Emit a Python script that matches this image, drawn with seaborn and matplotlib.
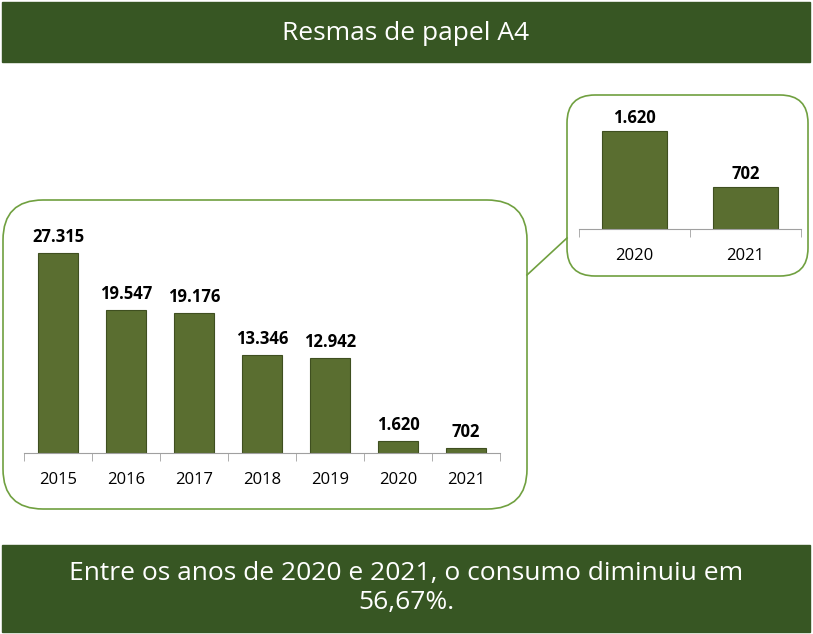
import matplotlib
matplotlib.use("Agg")
import matplotlib.pyplot as plt
import seaborn as sns
import pandas as pd
from matplotlib.patches import FancyBboxPatch, Rectangle
from matplotlib.lines import Line2D

years = ["2015", "2016", "2017", "2018", "2019", "2020", "2021"]
values = [27315, 19547, 19176, 13346, 12942, 1620, 702]
labels = ["27.315", "19.547", "19.176", "13.346", "12.942", "1.620", "702"]
inset_years = ["2020", "2021"]
inset_values = [1620, 702]
inset_labels = ["1.620", "702"]

W, H = 813, 634
fig = plt.figure(figsize=(W/100, H/100), dpi=100)
DARK = "#375623"
BAR = "#5a6e30"
BOX = "#70a040"

def fx(x): return x / W
def fy(y): return 1 - y / H

def rect(x0, y0, x1, y1):
    return [fx(x0), fy(y1), fx(x1) - fx(x0), fy(y0) - fy(y1)]

# header/footer bands
fig.patches.append(Rectangle((fx(2), fy(62)), fx(808)-fx(0), fy(2)-fy(62), transform=fig.transFigure, color=DARK))
fig.patches.append(Rectangle((fx(2), fy(632)), fx(808)-fx(0), fy(545)-fy(632), transform=fig.transFigure, color=DARK))
fig.text(fx(406), fy(33), "Resmas de papel A4", color="white", fontsize=19, ha="center", va="center", family="Open Sans")
fig.text(fx(406), fy(588), "Entre os anos de 2020 e 2021, o consumo diminuiu em\n56,67%.", color="white",
         fontsize=19, ha="center", va="center", family="Open Sans", linespacing=1.2)

# rounded boxes
for (x0, y0, x1, y1, r) in [(3, 200, 527, 509, 40), (567, 95, 808, 276, 28)]:
    fig.patches.append(FancyBboxPatch((fx(x0), fy(y1)), fx(x1)-fx(x0), fy(y0)-fy(y1),
                                      boxstyle=f"round,pad=0,rounding_size={r/W}", transform=fig.transFigure,
                                      fill=False, edgecolor=BOX, linewidth=1.2, mutation_aspect=W/H))
fig.lines.append(Line2D([fx(527), fx(567)], [fy(275), fy(238)], transform=fig.transFigure, color=BOX, linewidth=1.2))

def draw(ax, cats, vals, labs, ymax, width, fs):
    df = pd.DataFrame({"year": cats, "value": vals})
    sns.barplot(data=df, x="year", y="value", ax=ax, color=BAR, width=width, saturation=1,
                edgecolor="#3f4f20", linewidth=0.8)
    ax.set_ylim(0, ymax)
    ax.set_xlim(-0.5, len(cats) - 0.5)
    for i, (v, l) in enumerate(zip(vals, labs)):
        ax.text(i, v + ymax * 0.03, l, ha="center", va="bottom", fontsize=12, fontweight="bold", family="Open Sans")
    ax.set_xlabel(""); ax.set_ylabel("")
    ax.set_yticks([])
    for s in ["top", "right", "left"]:
        ax.spines[s].set_visible(False)
    ax.spines["bottom"].set_color("#a0a0a0")
    ax.set_xticks([i + 0.5 for i in range(-1, len(cats))], minor=True)
    ax.tick_params(axis="x", which="major", length=0, pad=14, labelsize=fs)
    ax.tick_params(axis="x", which="minor", length=6, color="#a0a0a0")
    for t in ax.get_xticklabels():
        t.set_family("Open Sans")
    ax.patch.set_alpha(0)

ax1 = fig.add_axes(rect(24, 223, 500, 453))
draw(ax1, years, values, labels, 27315 * 230 / 200, 0.59, 12)
ax2 = fig.add_axes(rect(579, 100, 801, 229))
draw(ax2, inset_years, inset_values, inset_labels, 1620 * 129 / 98, 0.58, 12)

fig.savefig("out.png", dpi=100)
